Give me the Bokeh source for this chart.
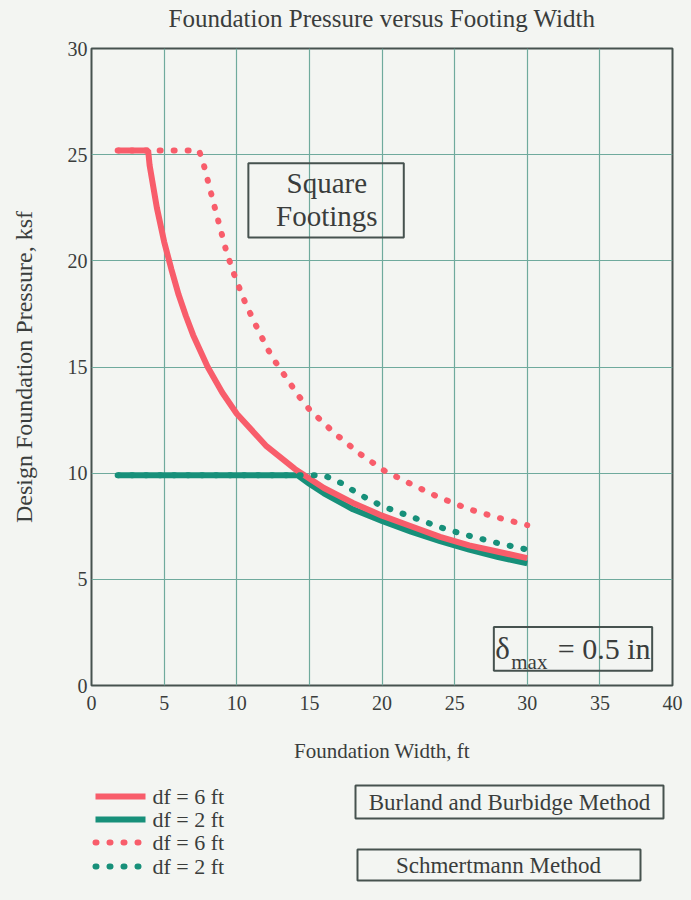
from bokeh.plotting import figure
from bokeh.models import Range1d, FixedTicker
from bokeh.layouts import column
from bokeh.core.properties import value
from bokeh.embed import file_html
from bokeh.resources import INLINE

# ---------------- data ----------------
title_text = "Foundation Pressure versus Footing Width"
x_label = "Foundation Width, ft"
y_label = "Design Foundation Pressure, ksf"
x_ticks = [0, 5, 10, 15, 20, 25, 30, 35, 40]
y_ticks = [0, 5, 10, 15, 20, 25, 30]

# Burland and Burbidge, df = 6 ft (solid red)
bb6_x = [1.8, 3.9, 4.0, 4.5, 5.0, 5.5, 6.0, 6.5, 7.0, 8.0, 9.0, 10.0, 12.0, 14.0, 16.0, 18.0, 20.0, 22.0, 24.0, 26.0, 28.0, 30.0]
bb6_y = [25.2, 25.2, 24.5, 22.5, 20.9, 19.6, 18.4, 17.4, 16.5, 15.0, 13.8, 12.8, 11.3, 10.2, 9.3, 8.6, 8.0, 7.5, 7.0, 6.6, 6.3, 6.0]
# Burland and Burbidge, df = 2 ft (solid green)
bb2_x = [1.8, 14.2, 15.0, 16.0, 18.0, 20.0, 22.0, 24.0, 26.0, 28.0, 30.0]
bb2_y = [9.9, 9.9, 9.5, 9.05, 8.3, 7.75, 7.25, 6.8, 6.4, 6.05, 5.75]
# Schmertmann, df = 6 ft (dotted red)
sc6_x = [1.8, 7.4, 7.7, 8.0, 8.3, 8.8, 9.3, 9.9, 10.6, 11.5, 12.4, 13.0, 14.3, 15.0, 16.7, 18.5, 20.2, 22.1, 23.8, 26.0, 28.0, 30.0]
sc6_y = [25.2, 25.2, 24.6, 23.8, 23.0, 21.7, 20.4, 19.2, 18.0, 16.7, 15.5, 14.9, 13.6, 13.0, 11.9, 10.9, 10.1, 9.45, 8.9, 8.3, 7.9, 7.55]
# Schmertmann, df = 2 ft (dotted green)
sc2_x = [1.8, 16.0, 17.3, 18.2, 19.0, 20.0, 22.0, 24.0, 26.0, 28.0, 30.0]
sc2_y = [9.9, 9.9, 9.5, 9.1, 8.8, 8.45, 7.95, 7.45, 7.05, 6.7, 6.4]

legend_labels = ["df = 6 ft", "df = 2 ft", "df = 6 ft", "df = 2 ft"]
method_labels = ["Burland and Burbidge Method", "Schmertmann Method"]

# ---------------- styles ----------------
RED = "#f85d6b"
GREEN = "#17907a"
GRID = "#6faa9d"
FRAME = "#46524f"
INK = "#3a3d3c"
BG = "#f3f5f2"
FONT = "Liberation Serif"
DOT = "1 13"

W = 683
ML, MR = 91, 11
TH = 36  # height of the title strip


def blank_fig(height, x_range, y_range):
    f = figure(width=W, height=height, output_backend="svg", toolbar_location=None,
               x_range=x_range, y_range=y_range,
               min_border_left=ML, min_border_right=MR, min_border_top=0, min_border_bottom=0,
               background_fill_color=BG, border_fill_color=BG, border_fill_alpha=0)
    f.axis.visible = False
    f.grid.visible = False
    f.outline_line_color = None
    return f


# ---------------- title strip ----------------
t = blank_fig(TH, Range1d(0, 40), Range1d(0, 1))
t.text(x=[20.0], y=[0.5], text=[title_text], text_font=value(FONT), text_font_size="25px",
       text_color=INK, text_align="center", text_baseline="middle")

# ---------------- main chart ----------------
p = figure(width=W, height=768 - TH, output_backend="svg", toolbar_location=None,
           x_range=Range1d(0, 40), y_range=Range1d(0, 30),
           min_border_left=ML, min_border_right=MR, min_border_top=48 - TH, min_border_bottom=83,
           background_fill_color=BG, border_fill_color=BG, border_fill_alpha=0)
p.outline_line_color = FRAME
p.outline_line_width = 2

for ax, ticks in ((p.xaxis, x_ticks), (p.yaxis, y_ticks)):
    ax.ticker = FixedTicker(ticks=ticks)
    ax.axis_line_color = None
    ax.major_tick_line_color = None
    ax.minor_tick_line_color = None
    ax.major_tick_out = 0
    ax.major_tick_in = 0
    ax.major_label_text_font = FONT
    ax.major_label_text_font_size = "20px"
    ax.major_label_text_color = INK
    ax.axis_label_text_font = FONT
    ax.axis_label_text_font_style = "normal"
    ax.axis_label_text_color = INK

p.xaxis.axis_label = x_label
p.xaxis.axis_label_text_font_size = "21px"
p.xaxis.major_label_standoff = 10
p.xaxis.axis_label_standoff = 26
p.yaxis.axis_label = y_label
p.yaxis.axis_label_text_font_size = "24px"
p.yaxis.major_label_standoff = 4
p.yaxis.axis_label_standoff = 28

p.grid.grid_line_color = GRID
p.grid.grid_line_width = 1.2
p.xgrid.ticker = FixedTicker(ticks=x_ticks)
p.ygrid.ticker = FixedTicker(ticks=y_ticks)

p.line(bb2_x, bb2_y, line_color=GREEN, line_width=6)
p.line(bb6_x, bb6_y, line_color=RED, line_width=6)
p.line(sc6_x, sc6_y, line_color=RED, line_width=6, line_dash=DOT, line_cap="round")
p.line(sc2_x, sc2_y, line_color=GREEN, line_width=6, line_dash=DOT, line_cap="round")

# "Square Footings" label box
p.quad(left=[10.8], right=[21.5], bottom=[21.1], top=[24.6], fill_color=None,
       line_color=FRAME, line_width=2)
p.text(x=[16.2, 16.2], y=[23.65, 22.1], text=["Square", "Footings"],
       text_font=value(FONT), text_font_size="29px", text_color=INK,
       text_align="center", text_baseline="middle")

# delta max box
p.quad(left=[27.7], right=[38.6], bottom=[0.7], top=[2.75], fill_color=None,
       line_color=FRAME, line_width=2)
p.text(x=[27.8], y=[1.75], text=["\u03b4"], text_font=value(FONT), text_font_size="31px",
       text_color=INK, text_align="left", text_baseline="middle")
p.text(x=[28.9], y=[1.12], text=["max"], text_font=value(FONT), text_font_size="21px",
       text_color=INK, text_align="left", text_baseline="middle")
p.text(x=[32.1], y=[1.75], text=["= 0.5 in"], text_font=value(FONT), text_font_size="30px",
       text_color=INK, text_align="left", text_baseline="middle")

# ---------------- legend area (page-pixel coordinates) ----------------
q = blank_fig(124, Range1d(ML, W - MR), Range1d(124, 0))

leg_colors = [RED, GREEN, RED, GREEN]
leg_dash = ["solid", "solid", DOT, DOT]
leg_rows = [28, 51, 74, 98]
for lab, col, dash, yy in zip(legend_labels, leg_colors, leg_dash, leg_rows):
    q.line([95, 145], [yy, yy], line_color=col, line_width=6, line_dash=dash,
           line_cap="round" if dash != "solid" else "butt")
    q.text(x=[152], y=[yy], text=[lab], text_font=value(FONT), text_font_size="22px",
           text_color=INK, text_align="left", text_baseline="middle")

q.quad(left=[355, 357], right=[663, 640], top=[17, 81], bottom=[50, 112],
       fill_color=None, line_color=FRAME, line_width=2)
q.text(x=[509, 498], y=[33.5, 97], text=method_labels, text_font=value(FONT),
       text_font_size="23px", text_color=INK, text_align="center", text_baseline="middle")

layout = column(t, p, q, spacing=0)
html = file_html(layout, INLINE)
html = html.replace("<head>", "<head><style>html,body{background:%s;}</style>" % BG, 1)
open("out.html", "w").write(html)
